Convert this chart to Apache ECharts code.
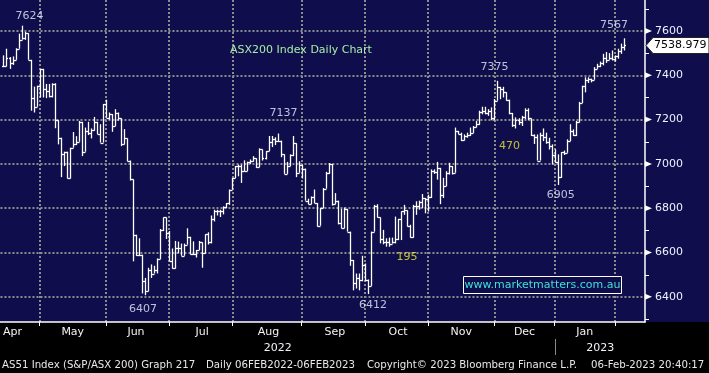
<!DOCTYPE html>
<html><head><meta charset="utf-8">
<script src="https://cdn.jsdelivr.net/npm/echarts@6/dist/echarts.min.js"></script>
<style>
html,body{margin:0;padding:0;background:#000;}
#c{width:709px;height:373px;background:linear-gradient(to bottom,#0f0d4b 0px,#0f0d4b 322px,#000 322px,#000 373px);}
</style></head><body><div id="c"></div>
<script>
// ---- data: [day, high, low, close] per trading day ----
const apr2022 = [[11,7490,7437,7440],[12,7520,7470,7478],[13,7482,7429,7455],[14,7485,7447,7470],[19,7522,7470,7520],[20,7588,7520,7561],[21,7624,7561,7568],[22,7596,7560,7590],[26,7590,7470,7470],[27,7470,7240,7296],[28,7349,7232,7258],[29,7353,7258,7353]];
const may2022 = [[2,7429,7300,7429],[3,7429,7300,7340],[4,7361,7297,7330],[5,7361,7300,7305],[6,7364,7300,7362],[9,7364,7161,7197],[10,7197,7088,7118],[11,7118,6940,7043],[12,7055,6990,7055],[13,7055,6934,6934],[16,7073,6934,7073],[17,7144,7073,7088],[18,7125,7085,7100],[19,7194,7100,7190],[20,7190,7035,7055],[23,7164,7055,7150],[24,7190,7130,7140],[25,7160,7115,7155],[26,7212,7150,7190],[27,7190,7134,7134],[30,7179,7096,7096],[31,7270,7096,7270]];
const jun2022 = [[1,7290,7209,7209],[2,7232,7200,7225],[3,7225,7145,7171],[6,7247,7171,7232],[7,7232,7195,7205],[8,7205,7080,7090],[9,7157,7088,7115],[10,7115,7012,7015],[14,7015,6925,6930],[15,6930,6560,6680],[16,6680,6585,6590],[17,6664,6585,6590],[20,6590,6415,6470],[21,6485,6407,6425],[22,6531,6425,6520],[23,6546,6485,6505],[24,6540,6505,6520],[27,6573,6505,6570],[28,6706,6570,6700],[29,6758,6697,6758],[30,6758,6661,6690]];
const jul2022 = [[1,6697,6561,6561],[4,6618,6527,6530],[5,6652,6527,6622],[6,6649,6596,6622],[7,6640,6585,6585],[8,6640,6585,6635],[11,6709,6636,6671],[12,6671,6591,6595],[13,6650,6590,6595],[14,6611,6577,6611],[15,6652,6611,6645],[18,6645,6531,6596],[19,6682,6596,6682],[20,6691,6636,6645],[21,6767,6641,6752],[22,6793,6740,6788],[25,6793,6767,6788],[26,6793,6760,6785],[27,6808,6772,6805],[28,6823,6800,6823],[29,6884,6815,6884]];
const aug2022 = [[1,6936,6884,6936],[2,6990,6936,6990],[3,6997,6944,6990],[4,6997,6914,6967],[5,7016,6967,6967],[8,7010,6967,7009],[9,7020,7000,7015],[10,7035,7010,7025],[11,7025,6982,6985],[12,7070,6985,7065],[15,7065,7015,7025],[16,7058,7020,7058],[17,7126,7058,7100],[18,7126,7076,7111],[19,7120,7085,7105],[22,7137,7100,7105],[23,7105,7030,7043],[24,7043,6955,6955],[25,7009,6955,6990],[26,7043,6990,7040],[29,7126,7035,7093],[30,7093,6940,6960],[31,7012,6960,6997]];
const sep2022 = [[1,6997,6934,6979],[2,6979,6834,6834],[5,6843,6818,6820],[6,6853,6818,6850],[7,6884,6823,6823],[8,6823,6717,6721],[9,6800,6721,6800],[12,6891,6800,6888],[13,6964,6888,6960],[14,7004,6955,7000],[15,7000,6812,6818],[16,6868,6818,6834],[19,6834,6727,6735],[20,6797,6709,6709],[21,6803,6709,6797],[23,6797,6694,6694],[26,6694,6540,6566],[27,6566,6429,6464],[28,6505,6437,6485],[29,6505,6429,6475],[30,6585,6470,6543]];
const oct2022 = [[3,6550,6470,6475],[4,6478,6412,6449],[5,6694,6449,6694],[6,6815,6694,6812],[7,6818,6758,6758],[10,6758,6641,6660],[11,6702,6637,6645],[12,6664,6626,6645],[13,6667,6626,6640],[14,6667,6641,6645],[17,6762,6641,6660],[18,6752,6656,6750],[19,6785,6656,6785],[20,6815,6770,6790],[21,6777,6717,6720],[24,6725,6667,6672],[25,6815,6667,6812],[26,6831,6770,6810],[27,6834,6793,6830],[28,6864,6800,6845],[31,6846,6777,6840]];
const nov2022 = [[1,6861,6785,6850],[2,6975,6846,6970],[3,6975,6955,6965],[4,7009,6929,6982],[7,6982,6818,6860],[8,6937,6846,6900],[9,6967,6900,6960],[10,7005,6952,6990],[11,6990,6952,6960],[14,7164,6960,7149],[15,7149,7134,7136],[16,7141,7103,7110],[17,7133,7106,7125],[18,7141,7118,7130],[21,7164,7126,7140],[22,7171,7140,7165],[23,7194,7165,7180],[24,7240,7176,7235],[25,7258,7224,7240],[28,7258,7224,7230],[29,7247,7217,7240],[30,7255,7197,7205]];
const dec2022 = [[1,7293,7197,7285],[2,7375,7285,7346],[5,7348,7292,7340],[6,7348,7300,7323],[7,7323,7285,7290],[8,7290,7224,7230],[9,7224,7167,7175],[12,7210,7160,7200],[13,7206,7176,7190],[14,7217,7171,7210],[15,7251,7202,7245],[16,7251,7197,7205],[19,7205,7126,7130],[20,7133,7090,7120],[21,7133,7015,7015],[22,7141,7015,7130],[23,7160,7103,7120],[28,7141,7091,7100],[29,7118,7065,7080],[30,7088,6997,7040]];
const jan2023 = [[3,7065,7005,7010],[4,7043,6905,6940],[5,7053,6937,7053],[6,7060,7040,7050],[9,7111,7050,7105],[10,7179,7103,7150],[11,7156,7126,7130],[12,7194,7126,7190],[13,7280,7187,7275],[16,7353,7277,7350],[17,7391,7323,7380],[18,7391,7365,7385],[19,7384,7368,7380],[20,7437,7384,7430],[23,7452,7429,7440],[24,7462,7437,7455],[25,7497,7445,7480],[27,7505,7456,7470],[30,7500,7470,7480],[31,7512,7467,7475]];
const feb2023 = [[1,7490,7462,7485],[2,7520,7475,7510],[3,7543,7497,7530],[6,7567,7512,7538.979]];

const yTicks = [6400,6600,6800,7000,7200,7400,7600];
const yMinorTicks = [6300,6500,6700,6900,7100,7300,7500,7700];
const monthNames = ['Jan','Feb','Mar','Apr','May','Jun','Jul','Aug','Sep','Oct','Nov','Dec'];
const monthLabelAt = ['2022-04-14','2022-05-17','2022-06-16','2022-07-18','2022-08-17','2022-09-16','2022-10-18','2022-11-16','2022-12-15','2023-01-17'];
const yearLabels = ['2022','2023'];
const lastValue = 7538.979;
const peakLabels = [['2022-04-21',7624,'7624'],['2022-06-21',6407,'6407'],['2022-08-22',7137,'7137'],['2022-10-04',6412,'6412'],['2022-12-02',7375,'7375'],['2023-02-06',7567,'7567'],['2023-01-04',6905,'6905']];
const noteLabels = [['2022-10-21',6580,'195'],['2022-12-08',7080,'470']];
const titleText = 'ASX200 Index Daily Chart';
const siteText = 'www.marketmatters.com.au';
const footer = ['AS51 Index (S&P/ASX 200) Graph 217','Daily 06FEB2022-06FEB2023','Copyright\u00A9 2023 Bloomberg Finance L.P.','06-Feb-2023 20:40:17'];

// ---- build categories and bars ----
const monthsList = [[2022,4,apr2022],[2022,5,may2022],[2022,6,jun2022],[2022,7,jul2022],[2022,8,aug2022],[2022,9,sep2022],[2022,10,oct2022],[2022,11,nov2022],[2022,12,dec2022],[2023,1,jan2023],[2023,2,feb2023]];
const dates = ['pad0'];
const bars = [];
let prevClose = null;
monthsList.forEach(([y, m, arr]) => arr.forEach(([d, h, l, c]) => {
  const idx = dates.length;
  dates.push(y + '-' + String(m).padStart(2,'0') + '-' + String(d).padStart(2,'0'));
  const o = prevClose == null ? c : prevClose;
  bars.push([idx, o, h, l, c]);
  prevClose = c;
}));
const lastReal = dates.length - 1;
for (let k = 0; k < 7; k++) dates.push('end' + k);

const isMonthStart = i => i > 1 && i <= lastReal && dates[i].slice(0,7) !== dates[i-1].slice(0,7);
const labelIdx = new Set(monthLabelAt.map(d => dates.indexOf(d)));

const FONT = 'DejaVu Sans';
const gridStyle = {color:'#8c8c8c', type:[2,2], width:2};

function renderItem(params, api) {
  const i = api.value(0);
  const o = api.value(1), h = api.value(2), l = api.value(3), c = api.value(4);
  const top = api.coord([i, Math.max(h, o, c)]);
  const bot = api.coord([i, Math.min(l, o, c)]);
  const po = api.coord([i, o]);
  const pc = api.coord([i, c]);
  const x = Math.round(top[0]) + 0.5;
  const half = api.size([1, 0])[0] / 2;
  const st = {stroke:'#ffffff', lineWidth:1.3};
  return {type:'group', children:[
    {type:'line', shape:{x1:x, y1:top[1], x2:x, y2:bot[1]}, style:st},
    {type:'line', shape:{x1:x-half, y1:Math.round(po[1])+0.5, x2:x, y2:Math.round(po[1])+0.5}, style:st},
    {type:'line', shape:{x1:x, y1:Math.round(pc[1])+0.5, x2:x+half, y2:Math.round(pc[1])+0.5}, style:st}
  ]};
}

const peakOffsets = {'7624':[8,-10],'6407':[-2,14],'7137':[6,-20],'6412':[5,11],'7375':[-3,-14],'7567':[-10,-13],'6905':[3,10]};

const option = {
  animation:false,
  grid:{left:0, right:64, top:0, bottom:51},
  xAxis:{
    type:'category', data:dates, boundaryGap:false,
    axisLine:{show:true, lineStyle:{color:'#ffffff', width:1.5}},
    axisTick:{show:true, interval:(i)=>isMonthStart(i), length:4, lineStyle:{color:'#ffffff'}},
    axisLabel:{interval:(i)=>labelIdx.has(i), formatter:(v)=>monthNames[parseInt(v.slice(5,7),10)-1], color:'#f2f2f8', fontFamily:FONT, fontSize:11, margin:5},
    splitLine:{show:true, interval:(i)=>isMonthStart(i), lineStyle:gridStyle}
  },
  yAxis:{
    type:'value', position:'right', min:6286, max:7740, splitNumber:7,
    axisLine:{show:true, lineStyle:{color:'#ffffff', width:1.5}},
    axisTick:{show:false},
    axisLabel:{color:'#eef2ff', fontFamily:FONT, fontSize:11, margin:10, showMinLabel:false, showMaxLabel:false, formatter:(v)=>String(v)},
    splitLine:{show:true, showMinLine:false, showMaxLine:false, lineStyle:gridStyle}
  },
  series:[
    {type:'custom', renderItem:renderItem, data:bars, encode:{x:0, y:[1,2,3,4]}, z:5, clip:false},
    {type:'scatter', symbolSize:0, z:6, silent:true,
      data: peakLabels.map(([d, v, t]) => ({value:[dates.indexOf(d), v], name:t,
        label:{show:true, position:'inside', formatter:t, offset:peakOffsets[t], color:'#e6eeff', fontFamily:FONT, fontSize:11}}))
        .concat(noteLabels.map(([d, v, t]) => ({value:[dates.indexOf(d), v], name:t,
        label:{show:true, position:'inside', formatter:t, offset:[0,0], color:'#ecec2a', fontFamily:FONT, fontSize:11}})))
    }
  ]
};

const chart = echarts.init(document.getElementById('c'), null, {renderer:'canvas'});
chart.setOption(option);

const px = (i, v) => chart.convertToPixel({gridIndex:0}, [i, v]);
const axisX = px(lastReal + 7, 7000)[0];
const bottomY = px(0, 6286)[1];
const g = [];
yTicks.forEach(v => {
  const y = px(0, v)[1];
  g.push({type:'polygon', shape:{points:[[axisX, y-3],[axisX+7, y],[axisX, y+3]]}, style:{fill:'#ffffff'}, z:10});
});
yMinorTicks.forEach(v => {
  const y = Math.round(px(0, v)[1]) + 0.5;
  g.push({type:'line', shape:{x1:axisX, y1:y, x2:axisX+4, y2:y}, style:{stroke:'#ffffff', lineWidth:1}, z:10});
});
// current value tag
const cy = px(0, lastValue)[1] + 1;
g.push({type:'polygon', shape:{points:[[axisX+1, cy],[axisX+8, cy-8],[709, cy-8],[709, cy+8],[axisX+8, cy+8]]}, style:{fill:'#ffffff', stroke:'#222', lineWidth:1}, z:11});
g.push({type:'text', x:axisX+9, y:cy, style:{text:lastValue.toFixed(3), fill:'#000000', font:'11px "DejaVu Sans"', verticalAlign:'middle'}, z:12});
// year separator and year labels
const janIdx = dates.indexOf('2023-01-03');
const sepX = Math.round(px(janIdx, 7000)[0]) + 0.5;
g.push({type:'line', shape:{x1:sepX, y1:bottomY+17, x2:sepX, y2:bottomY+33}, style:{stroke:'#8a8a8a', lineWidth:1}, z:10});
g.push({type:'text', x:(0 + sepX)/2, y:bottomY+26, style:{text:yearLabels[0], fill:'#f2f2f8', font:'11px "DejaVu Sans"', align:'center', verticalAlign:'middle'}, z:10});
g.push({type:'text', x:(sepX + axisX)/2, y:bottomY+26, style:{text:yearLabels[1], fill:'#f2f2f8', font:'11px "DejaVu Sans"', align:'center', verticalAlign:'middle'}, z:10});
// title
g.push({type:'text', x:301, y:50, style:{text:titleText, fill:'#a6eea6', font:'11px "DejaVu Sans"', align:'center', verticalAlign:'middle'}, z:10});
// watermark box
g.push({type:'rect', shape:{x:463.5, y:276.5, width:158, height:17}, style:{fill:'#0f0d4b', stroke:'#ffffff', lineWidth:1}, z:10});
g.push({type:'text', x:542.5, y:285.5, style:{text:siteText, fill:'#3fe0d8', font:'11px "DejaVu Sans"', align:'center', verticalAlign:'middle'}, z:11});
// footer
const footX = [2, 206, 367, 591];
footer.forEach((t, k) => g.push({type:'text', x:footX[k], y:365, style:{text:t, fill:'#e8e8e8', font:'10.2px "DejaVu Sans"', align:'left', verticalAlign:'middle'}, z:10}));
chart.setOption({graphic:{elements:g}});
</script>
</body></html>
